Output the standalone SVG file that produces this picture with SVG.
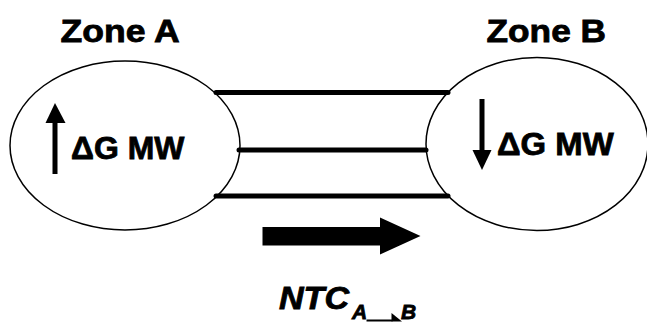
<svg xmlns="http://www.w3.org/2000/svg" width="647" height="323" viewBox="0 0 647 323">
<style>
.zone{fill:#fff;stroke:#000;stroke-width:1.5}
.t{font-family:"Liberation Sans",Arial,sans-serif;font-weight:bold;fill:#000;stroke:#000;stroke-width:0.8}
.line{stroke:#000;stroke-width:5;stroke-linecap:round}
</style>
<rect width="647" height="323" fill="#fff"/>
<g id="zoneA">
<ellipse class="zone" cx="125" cy="145.5" rx="115" ry="84.5"/>
<text class="t" font-size="31.5" transform="translate(60.5,42) scale(1.13,1)">Zone A</text>
<rect x="52.5" y="120" width="5" height="54"/>
<polygon points="55,103 45.5,123 65.5,123"/>
<text class="t" font-size="31" transform="translate(71,159) scale(1.03,1)">ΔG MW</text>
</g>
<g id="zoneB">
<ellipse class="zone" cx="537" cy="144" rx="111" ry="86.5"/>
<text class="t" font-size="31.5" transform="translate(486.5,42) scale(1.12,1)">Zone B</text>
<rect x="479.5" y="99" width="5" height="54"/>
<polygon points="482,170 472.5,150 491.5,150"/>
<text class="t" font-size="31" transform="translate(497,155) scale(1.06,1)">ΔG MW</text>
</g>
<g id="connectors">
<line class="line" x1="216" y1="92.5" x2="448" y2="92.5"/>
<line class="line" x1="239" y1="150" x2="426" y2="150"/>
<line class="line" x1="216" y1="196" x2="448" y2="196"/>
<polygon points="262.5,227 380,227 380,217.5 420.5,236 380,254.5 380,245.5 262.5,245.5"/>
</g>
<g id="ntc">
<text class="t" font-size="31" font-style="italic" transform="translate(279,308.5) scale(1.1,1)">NTC</text>
<text class="t" font-size="21" font-style="italic" x="352" y="318.5">A</text>
<rect x="366.5" y="319.5" width="26" height="2"/>
<polygon points="391.5,313 402,321.5 391.5,321.5"/>
<text class="t" font-size="21" font-style="italic" x="401" y="318.5">B</text>
</g>
</svg>
